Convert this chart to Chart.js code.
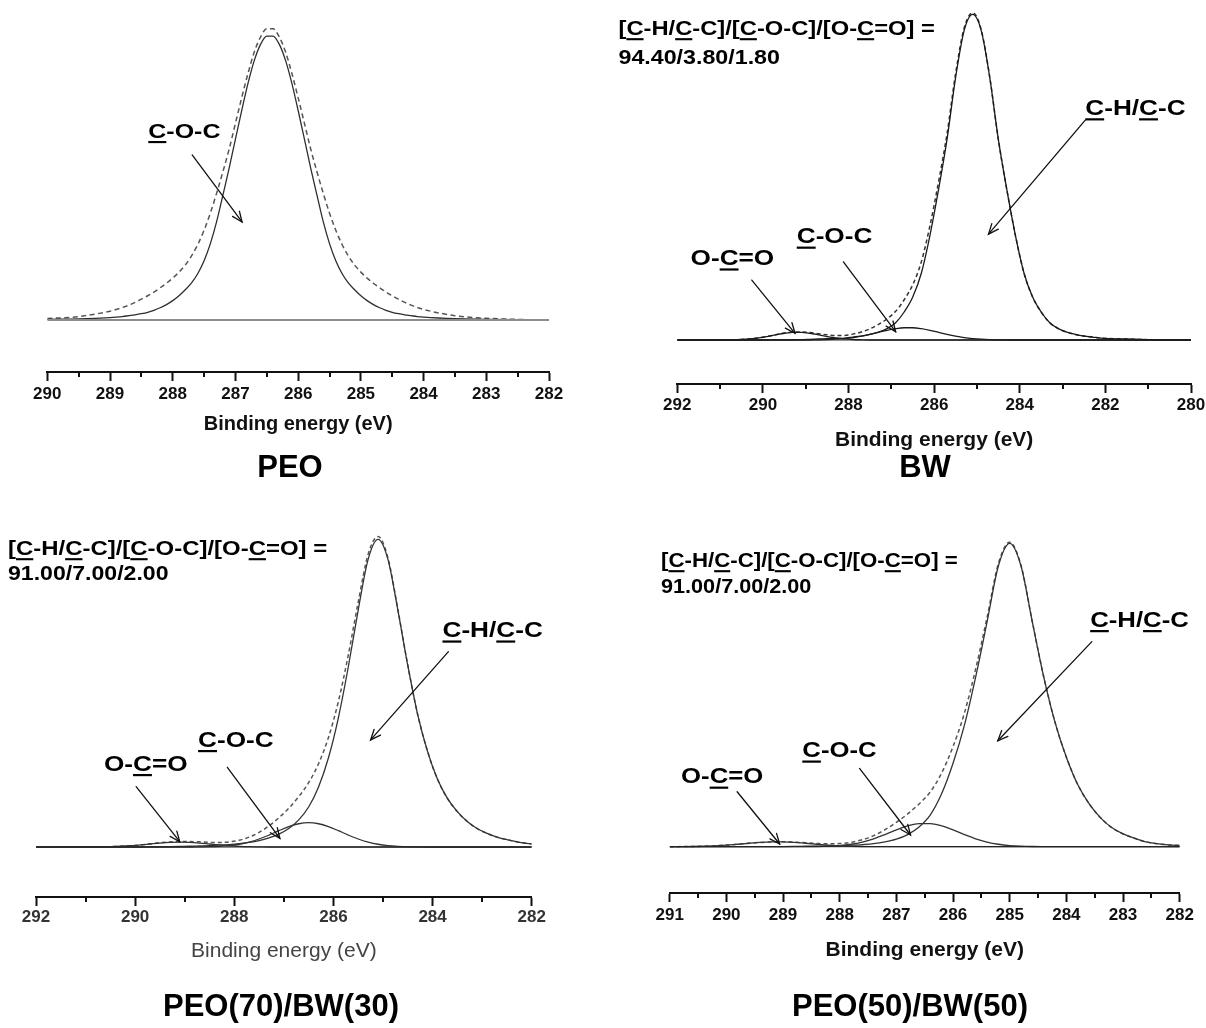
<!DOCTYPE html>
<html>
<head>
<meta charset="utf-8">
<script src="https://cdn.jsdelivr.net/npm/chart.js@4.4.1/dist/chart.umd.min.js"></script>
<style>
  html, body { margin: 0; padding: 0; background: #fff; }
  #fig { position: relative; width: 1206px; height: 1028px; overflow: hidden; background: #fff; }
  #fig canvas { position: absolute; }
</style>
</head>
<body>
<div id="fig">
  <canvas id="cPEO" width="603" height="505" style="left:0;top:0"></canvas>
  <canvas id="cBW" width="620" height="505" style="left:603px;top:0"></canvas>
  <canvas id="cP70" width="603" height="523" style="left:0;top:505px"></canvas>
  <canvas id="cP50" width="620" height="523" style="left:603px;top:505px"></canvas>
</div>
<script>
// ---------- C1s spectra: binding energy (eV) and intensity (peak component = 100) ----------

// PEO
const peoEnergy = [290, 289.5, 289.0, 288.9, 288.8, 288.7, 288.6, 288.5, 288.4, 288.3, 288.2, 288.1, 288.0,
  287.9, 287.8, 287.7, 287.6, 287.5, 287.4, 287.3, 287.2, 287.1, 287.0, 286.9, 286.8, 286.7, 286.6, 286.5,
  286.4, 286.3, 286.2, 286.1, 286.0, 285.9, 285.8, 285.7, 285.6, 285.5, 285.4, 285.3, 285.2, 285.1, 285.0,
  284.9, 284.8, 284.7, 284.6, 284.5, 284.4, 284.3, 284.2, 284.1, 284.0, 283.5, 283.0, 282.5, 282.0];
const peoCOC = [0.2, 0.4, 0.85, 1.0, 1.2, 1.5, 1.8, 2.2, 2.7, 3.4, 4.3, 5.4, 6.8,
  8.5, 10.6, 13.0, 16.3, 20.8, 26.8, 34.5, 43.8, 53.3, 63.5, 73.5, 83.0, 91.0, 96.7, 99.6,
  99.6, 96.7, 91.0, 83.0, 73.5, 63.5, 53.3, 43.8, 34.5, 26.8, 20.8, 16.3, 13.0, 10.6, 8.5,
  6.8, 5.4, 4.3, 3.4, 2.7, 2.2, 1.8, 1.5, 1.2, 1.0, 0.45, 0.25, 0.1, 0];
const peoEnvelope = [0.5, 1.2, 3.1, 3.7, 4.4, 5.2, 6.2, 7.3, 8.5, 9.8, 11.3, 12.9, 14.7,
  16.8, 19.3, 22.5, 26.5, 31.5, 37.5, 44.5, 52.0, 60.0, 69.0, 78.0, 86.5, 94.0, 99.3, 102.2,
  102.2, 99.3, 94.0, 86.5, 78.0, 69.0, 60.0, 52.0, 44.5, 37.5, 31.5, 26.5, 22.5, 19.3, 16.8,
  14.7, 12.9, 11.3, 9.8, 8.5, 7.3, 6.2, 5.2, 4.4, 3.7, 1.5, 0.6, 0.2, 0];
const peoTickLabels = [290, 289, 288, 287, 286, 285, 284, 283, 282];

// BW
const bwEnergy = [292, 291.5, 291, 290.5, 290.1, 289.9, 289.7, 289.5, 289.3, 289.1, 288.9, 288.7, 288.5,
  288.3, 288.1, 287.9, 287.7, 287.5, 287.3, 287.1, 286.9, 286.7, 286.5, 286.3, 286.1, 285.9, 285.7, 285.5,
  285.3, 285.1, 284.9, 284.7, 284.5, 284.3, 284.1, 283.9, 283.7, 283.5, 283.3, 283.1, 282.9, 282.7, 282.5,
  282.3, 282.1, 281.5, 281, 280.5, 280];
const bwCH = [0, 0, 0, 0, 0, 0, 0.05, 0.05, 0.08, 0.1, 0.2, 0.3, 0.4,
  0.5, 0.6, 0.9, 1.2, 1.7, 2.4, 3.5, 5.3, 8.6, 13.2, 20.5, 32, 46, 61.5, 80.5,
  95, 100, 95, 80.5, 61.5, 46, 32, 20.5, 13.2, 8.6, 5.3, 3.5, 2.4, 1.7, 1.2,
  0.9, 0.6, 0.3, 0.1, 0, 0];
const bwCOC = [0, 0, 0, 0, 0, 0, 0, 0, 0, 0, 0, 0.05, 0.12,
  0.24, 0.44, 0.75, 1.19, 1.74, 2.37, 2.99, 3.49, 3.76, 3.76, 3.49, 2.99, 2.37, 1.74, 1.19,
  0.75, 0.44, 0.24, 0.12, 0.05, 0, 0, 0, 0, 0, 0, 0, 0, 0, 0,
  0, 0, 0, 0, 0, 0];
const bwOCO = [0, 0, 0, 0.15, 0.63, 1.07, 1.59, 2.07, 2.36, 2.36, 2.07, 1.59, 1.07,
  0.63, 0.32, 0.15, 0.06, 0, 0, 0, 0, 0, 0, 0, 0, 0, 0, 0,
  0, 0, 0, 0, 0, 0, 0, 0, 0, 0, 0, 0, 0, 0, 0,
  0, 0, 0, 0, 0, 0];
const bwEnvelope = [0, 0, 0, 0.15, 0.63, 1.07, 1.64, 2.12, 2.44, 2.46, 2.27, 1.94, 1.59,
  1.37, 1.36, 1.80, 2.45, 3.44, 4.77, 6.49, 8.79, 12.36, 16.96, 23.99, 34.99, 48.37, 63.24, 81.69,
  95.75, 100.44, 95.24, 80.62, 61.55, 46, 32, 20.5, 13.2, 8.6, 5.3, 3.5, 2.4, 1.7, 1.2,
  0.9, 0.6, 0.3, 0.1, 0, 0];
const bwRatio = [94.40, 3.80, 1.80];
const bwTickLabels = [292, 290, 288, 286, 284, 282, 280];

// PEO(70)/BW(30)
const p70Energy = [292, 291.5, 291, 290.5, 290.1, 289.9, 289.7, 289.5, 289.3, 289.1, 288.9, 288.7, 288.5,
  288.3, 288.1, 287.9, 287.7, 287.5, 287.3, 287.1, 286.9, 286.7, 286.5, 286.3, 286.1, 285.9, 285.7, 285.5,
  285.3, 285.1, 284.9, 284.7, 284.5, 284.3, 284.1, 283.9, 283.7, 283.5, 283.3, 283.1, 282.9, 282.7, 282.5,
  282.3, 282.1, 282.0];
const p70CH = [0, 0, 0, 0, 0, 0, 0.05, 0.1, 0.15, 0.2, 0.25, 0.35, 0.45,
  0.6, 0.8, 1.1, 1.5, 2.1, 3.0, 4.2, 6.0, 8.8, 13.0, 19.5, 29, 42, 58.5, 77,
  93.5, 100, 93.5, 77, 59, 43, 31, 22, 15.8, 11.5, 8.3, 6.0, 4.4, 3.2, 2.4,
  1.7, 1.2, 1.0];
const p70COC = [0, 0, 0, 0, 0, 0, 0, 0, 0, 0, 0, 0.04, 0.09,
  0.22, 0.46, 0.89, 1.60, 2.60, 3.88, 5.29, 6.61, 7.56, 7.9, 7.56, 6.61, 5.29, 3.88, 2.60,
  1.60, 0.89, 0.46, 0.22, 0.09, 0.04, 0, 0, 0, 0, 0, 0, 0, 0, 0,
  0, 0, 0];
const p70OCO = [0, 0, 0, 0.11, 0.40, 0.66, 0.97, 1.28, 1.51, 1.6, 1.51, 1.28, 0.97,
  0.66, 0.40, 0.22, 0.11, 0.05, 0, 0, 0, 0, 0, 0, 0, 0, 0, 0,
  0, 0, 0, 0, 0, 0, 0, 0, 0, 0, 0, 0, 0, 0, 0,
  0, 0, 0];
const p70Envelope = [0, 0, 0, 0.11, 0.40, 0.66, 1.02, 1.38, 1.66, 1.8, 1.76, 1.67, 1.51,
  1.48, 1.66, 2.21, 3.21, 4.75, 6.88, 9.49, 12.61, 16.36, 20.9, 27.06, 35.61, 47.29, 62.38, 79.6,
  95.1, 100.89, 93.96, 77.22, 59.09, 43.04, 31, 22, 15.8, 11.5, 8.3, 6.0, 4.4, 3.2, 2.4,
  1.7, 1.2, 1.0];
const p70Ratio = [91.00, 7.00, 2.00];
const p70TickLabels = [292, 290, 288, 286, 284, 282];

// PEO(50)/BW(50)
const p50Energy = [291.0, 290.8, 290.6, 290.4, 290.2, 290.0, 289.8, 289.6, 289.4, 289.2, 289.0, 288.8,
  288.6, 288.4, 288.2, 288.0, 287.8, 287.6, 287.4, 287.2, 287.0, 286.8, 286.6, 286.4, 286.2, 286.0,
  285.8, 285.6, 285.4, 285.2, 285.0, 284.8, 284.6, 284.4, 284.2, 284.0, 283.8, 283.6, 283.4, 283.2,
  283.0, 282.8, 282.6, 282.4, 282.2, 282.0];
const p50CH = [0, 0, 0, 0, 0, 0, 0, 0, 0, 0, 0.05, 0.1,
  0.15, 0.2, 0.25, 0.35, 0.5, 0.7, 1.0, 1.6, 2.5, 4.0, 6.5, 10.5, 17.5, 27.5,
  40, 56, 74, 92.5, 100, 92.5, 74, 56, 41, 29.5, 20.5, 14.2, 9.6, 6.3,
  4.2, 2.8, 1.6, 1.0, 0.6, 0.4];
const p50COC = [0, 0, 0, 0, 0, 0, 0, 0, 0, 0, 0, 0,
  0.02, 0.06, 0.16, 0.38, 0.81, 1.53, 2.61, 4.00, 5.52, 6.83, 7.60, 7.60, 6.83, 5.52,
  4.00, 2.61, 1.53, 0.81, 0.38, 0.16, 0.06, 0.02, 0, 0, 0, 0, 0, 0,
  0, 0, 0, 0, 0, 0];
const p50OCO = [0, 0.03, 0.07, 0.15, 0.30, 0.52, 0.81, 1.13, 1.41, 1.58, 1.58, 1.41,
  1.13, 0.81, 0.52, 0.30, 0.15, 0.07, 0.03, 0, 0, 0, 0, 0, 0, 0,
  0, 0, 0, 0, 0, 0, 0, 0, 0, 0, 0, 0, 0, 0,
  0, 0, 0, 0, 0, 0];
const p50Envelope = [0, 0.03, 0.07, 0.15, 0.30, 0.52, 0.81, 1.13, 1.41, 1.58, 1.63, 1.51,
  1.30, 1.07, 0.93, 1.03, 1.46, 2.30, 3.64, 5.60, 8.02, 10.83, 14.10, 18.10, 24.33, 33.02,
  44.00, 58.61, 75.53, 93.31, 100.38, 92.66, 74.06, 56.02, 41, 29.5, 20.5, 14.2, 9.6, 6.3,
  4.2, 2.8, 1.6, 1.0, 0.6, 0.4];
const p50Ratio = [91.00, 7.00, 2.00];
const p50TickLabels = [291, 290, 289, 288, 287, 286, 285, 284, 283, 282];

// ---------- drawing helpers ----------
const FONT = "'Liberation Sans', Arial, Helvetica, sans-serif";
const RATIO_HEAD = '[_C_-H/_C_-C]/[_C_-O-C]/[O-_C_=O] =';

function toPoints(energy, values) {
  return energy.map((e, i) => ({ x: e, y: values[i] }));
}

// "_C_" marks an underlined carbon
function parseMarked(s) {
  return s.split('_').map((t, i) => [t, i % 2 === 1]).filter(p => p[0].length > 0);
}

function richWidth(ctx, segs, size, weight) {
  ctx.font = weight + ' ' + size + 'px ' + FONT;
  return segs.reduce((w, s) => w + ctx.measureText(s[0]).width, 0);
}

function drawRich(ctx, segs, x, y, size, sx, weight, color) {
  ctx.save();
  ctx.translate(x, y);
  ctx.scale(sx, 1);
  ctx.font = weight + ' ' + size + 'px ' + FONT;
  ctx.fillStyle = color;
  ctx.textBaseline = 'alphabetic';
  ctx.textAlign = 'left';
  let cx = 0;
  for (const [t, u] of segs) {
    ctx.fillText(t, cx, 0);
    const w = ctx.measureText(t).width;
    if (u) ctx.fillRect(cx, size * 0.15, w, size * 0.1);
    cx += w;
  }
  ctx.restore();
}

function drawArrow(ctx, x1, y1, x2, y2) {
  ctx.save();
  ctx.strokeStyle = '#111';
  ctx.lineWidth = 1.3;
  ctx.lineCap = 'round';
  ctx.beginPath(); ctx.moveTo(x1, y1); ctx.lineTo(x2, y2); ctx.stroke();
  const a = Math.atan2(y2 - y1, x2 - x1), L = 11, h = 0.4;
  ctx.beginPath();
  ctx.moveTo(x2 - L * Math.cos(a - h), y2 - L * Math.sin(a - h));
  ctx.lineTo(x2, y2);
  ctx.lineTo(x2 - L * Math.cos(a + h), y2 - L * Math.sin(a + h));
  ctx.stroke();
  ctx.restore();
}

// minor ticks, peak labels with arrows, composition text and caption
function notesPlugin(n) {
  return {
    id: 'xpsNotes',
    afterDraw(chart) {
      const ctx = chart.ctx, xs = chart.scales.x, ys = chart.scales.y;
      ctx.save();
      ctx.strokeStyle = '#111';
      ctx.lineWidth = 2;
      for (let i = 0; i < n.ticks.length - 1; i++) {
        const v = (n.ticks[i] + n.ticks[i + 1]) / 2;
        const px = Math.round(xs.getPixelForValue(v));
        ctx.beginPath(); ctx.moveTo(px, xs.top); ctx.lineTo(px, xs.top + 5); ctx.stroke();
      }
      ctx.restore();
      n.arrows.forEach(a => drawArrow(ctx,
        xs.getPixelForValue(a[0]), ys.getPixelForValue(a[1]),
        xs.getPixelForValue(a[2]), ys.getPixelForValue(a[3])));
      n.labels.forEach(l => drawRich(ctx, parseMarked(l.text),
        xs.getPixelForValue(l.at[0]), ys.getPixelForValue(l.at[1]),
        n.labelSize, n.labelSx, 'bold', '#000'));
      if (n.ratio) {
        const r = n.ratio;
        drawRich(ctx, parseMarked(RATIO_HEAD), r.x, r.y[0], 21, r.sx[0], 'bold', '#000');
        drawRich(ctx, [[r.values.map(v => v.toFixed(2)).join('/'), false]], r.x, r.y[1], 21, r.sx[1], 'bold', '#000');
      }
      const segs = [[n.caption.text, false]];
      const w = richWidth(ctx, segs, 31, 'bold');
      drawRich(ctx, segs, n.caption.x - w / 2, n.caption.y + 11, 31, 1, 'bold', '#000');
    }
  };
}

function makePanel(id, p) {
  const datasets = [
    { data: toPoints(p.baselineE, [0, 0]), borderColor: p.baseColor, borderWidth: p.baseWidth },
    ...p.components.map(v => ({ data: toPoints(p.energy, v), borderColor: p.lineColor, borderWidth: 1.3 })),
    { data: toPoints(p.energy, p.envelope), borderColor: p.dashColor, borderWidth: 1.5, borderDash: p.dash }
  ];
  datasets.forEach(d => {
    d.pointRadius = 0;
    d.fill = false;
    d.cubicInterpolationMode = 'monotone';
  });
  return new Chart(document.getElementById(id), {
    type: 'line',
    data: { datasets },
    options: {
      responsive: false,
      animation: false,
      devicePixelRatio: 1,
      layout: { padding: p.padding },
      plugins: { legend: { display: false }, tooltip: { enabled: false }, title: { display: false } },
      scales: {
        x: {
          type: 'linear',
          reverse: true,
          min: Math.min(...p.ticks),
          max: Math.max(...p.ticks),
          afterBuildTicks: s => { s.ticks = p.ticks.map(v => ({ value: v })); },
          afterFit: s => { s.height = p.xHeight; },
          grid: { drawOnChartArea: false, drawTicks: true, tickLength: 9, tickWidth: 2, tickColor: '#111', color: '#111' },
          border: { display: true, color: '#111', width: 2 },
          ticks: {
            autoSkip: false, maxRotation: 0, padding: p.tickPad, color: p.tickColor,
            font: { family: FONT, size: p.tickSize, weight: 'bold' },
            callback: v => String(v)
          },
          title: {
            display: true, text: 'Binding energy (eV)', color: p.titleColor,
            font: { family: FONT, size: p.titleSize, weight: p.titleWeight },
            padding: { top: 0, bottom: 0 }
          }
        },
        y: { display: false, min: p.yMin, max: p.yMax }
      }
    },
    plugins: [notesPlugin(p.notes)]
  });
}

// ---------- the four panels ----------
makePanel('cPEO', {
  energy: peoEnergy, components: [peoCOC], envelope: peoEnvelope, baselineE: [290, 282],
  ticks: peoTickLabels,
  padding: { left: 47.3, right: 54, top: 10, bottom: 69 }, xHeight: 64,
  yMin: -18.25, yMax: 108.77,
  tickSize: 17, tickPad: 2.8, tickColor: '#111',
  titleSize: 20, titleWeight: 'bold', titleColor: '#111',
  lineColor: '#2e2e2e', dashColor: '#555', dash: [5, 3.5], baseColor: '#8c8c8c', baseWidth: 2.2,
  notes: {
    ticks: peoTickLabels, labelSize: 21, labelSx: 1.19,
    labels: [{ text: '_C_-O-C', at: [288.39, 63.9] }],
    arrows: [[287.69, 57.9, 286.895, 34.4]],
    caption: { text: 'PEO', x: 290, y: 466 }
  }
});

makePanel('cBW', {
  energy: bwEnergy, components: [bwCH, bwCOC, bwOCO], envelope: bwEnvelope, baselineE: [292, 280],
  ticks: bwTickLabels,
  padding: { left: 74.3, right: 32, top: 5, bottom: 52.4 }, xHeight: 68.6,
  yMin: -13.51, yMax: 102.86,
  tickSize: 17, tickPad: 1.8, tickColor: '#111',
  titleSize: 21, titleWeight: 'bold', titleColor: '#111',
  lineColor: '#1a1a1a', dashColor: '#333', dash: [4, 3], baseColor: '#222', baseWidth: 1,
  notes: {
    ticks: bwTickLabels, labelSize: 22, labelSx: 1.19,
    labels: [
      { text: '_C_-O-C', at: [289.21, 29.7] },
      { text: 'O-_C_=O', at: [291.69, 23.0] },
      { text: '_C_-H/_C_-C', at: [282.47, 69.1] }
    ],
    arrows: [[290.26, 18.4, 289.25, 2.06], [288.12, 24.0, 286.90, 2.55], [282.47, 67.5, 284.73, 32.5]],
    ratio: { x: 15.5, y: [35, 64], sx: [1.13, 1.106], values: bwRatio },
    caption: { text: 'BW', x: 322, y: 466 }
  }
});

makePanel('cP70', {
  energy: p70Energy, components: [p70CH, p70COC, p70OCO], envelope: p70Envelope, baselineE: [292, 282],
  ticks: p70TickLabels,
  padding: { left: 36, right: 71.3, top: 20, bottom: 63.7 }, xHeight: 67.3,
  yMin: -16.25, yMax: 104.65,
  tickSize: 17, tickPad: 0.8, tickColor: '#333',
  titleSize: 21, titleWeight: 'normal', titleColor: '#444',
  lineColor: '#333', dashColor: '#555', dash: [4, 3], baseColor: '#222', baseWidth: 1,
  notes: {
    ticks: p70TickLabels, labelSize: 22, labelSx: 1.19,
    labels: [
      { text: '_C_-O-C', at: [288.73, 32.6] },
      { text: 'O-_C_=O', at: [290.63, 24.8] },
      { text: '_C_-H/_C_-C', at: [283.80, 68.2] }
    ],
    arrows: [[289.98, 19.6, 289.10, 1.72], [288.14, 25.9, 287.08, 2.83], [283.68, 63.5, 285.25, 34.8]],
    ratio: { x: 8, y: [50, 75], sx: [1.14, 1.10], values: p70Ratio },
    caption: { text: 'PEO(70)/BW(30)', x: 281, y: 500 }
  }
});

makePanel('cP50', {
  energy: p50Energy, components: [p50CH, p50COC, p50OCO], envelope: p50Envelope, baselineE: [291, 282],
  ticks: p50TickLabels,
  padding: { left: 66.7, right: 43.3, top: 20, bottom: 65.4 }, xHeight: 69.6,
  yMin: -15.26, yMax: 106.03,
  tickSize: 17, tickPad: 2.8, tickColor: '#111',
  titleSize: 21, titleWeight: 'bold', titleColor: '#111',
  lineColor: '#333', dashColor: '#555', dash: [4, 3], baseColor: '#222', baseWidth: 1,
  notes: {
    ticks: p50TickLabels, labelSize: 22, labelSx: 1.17,
    labels: [
      { text: '_C_-O-C', at: [288.66, 29.5] },
      { text: 'O-_C_=O', at: [290.80, 20.9] },
      { text: '_C_-H/_C_-C', at: [283.58, 72.5] }
    ],
    arrows: [[289.81, 18.1, 289.06, 0.9], [287.65, 25.8, 286.75, 3.86], [283.55, 67.6, 285.21, 34.9]],
    ratio: { x: 58, y: [62, 88], sx: [1.06, 1.03], values: p50Ratio },
    caption: { text: 'PEO(50)/BW(50)', x: 307, y: 500 }
  }
});
</script>
</body>
</html>
